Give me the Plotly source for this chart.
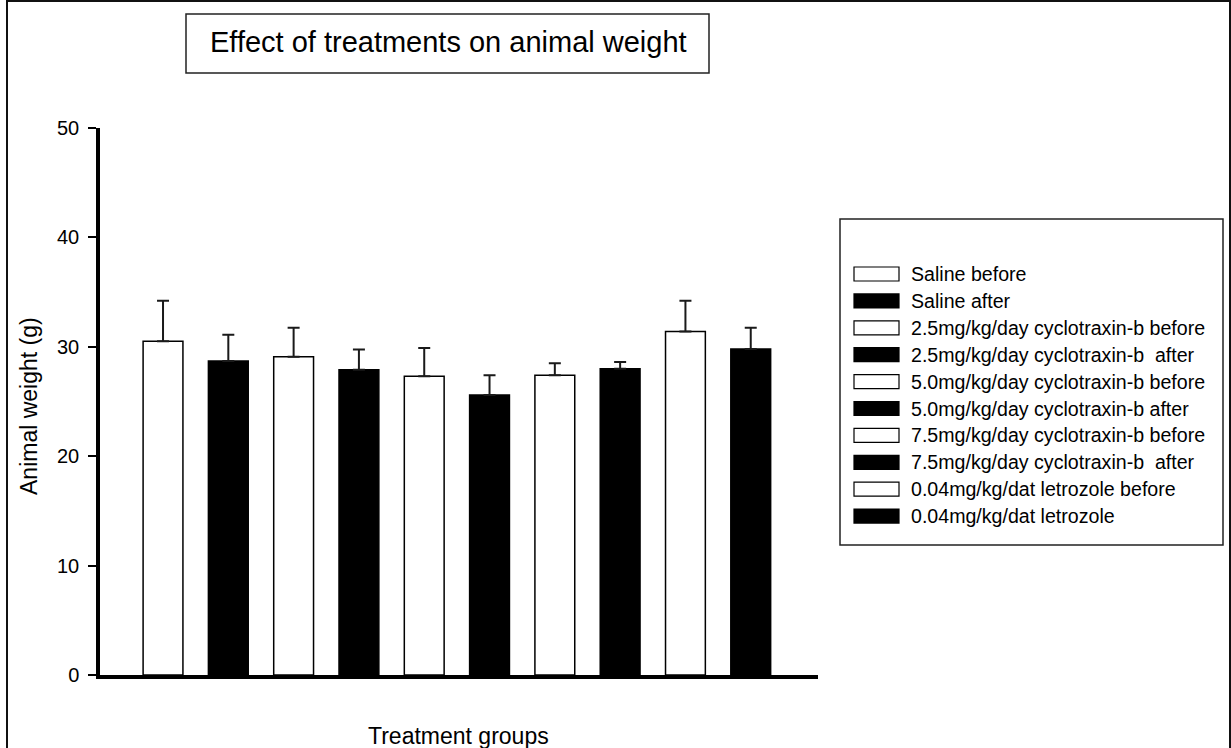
import plotly.graph_objects as go

# Treatment groups (before / after pairs) and their mean weights with upper error
groups = [
    "Saline before",
    "Saline after",
    "2.5mg/kg/day cyclotraxin-b before",
    "2.5mg/kg/day cyclotraxin-b\u00a0 after",
    "5.0mg/kg/day cyclotraxin-b before",
    "5.0mg/kg/day cyclotraxin-b after",
    "7.5mg/kg/day cyclotraxin-b before",
    "7.5mg/kg/day cyclotraxin-b\u00a0 after",
    "0.04mg/kg/dat letrozole before",
    "0.04mg/kg/dat letrozole",
]
weights = [30.5, 28.7, 29.1, 27.9, 27.3, 25.6, 27.4, 28.0, 31.4, 29.8]
errors = [3.7, 2.4, 2.65, 1.85, 2.6, 1.8, 1.1, 0.6, 2.8, 1.95]
fills = ["white", "black"] * 5
y_ticks = [0, 10, 20, 30, 40, 50]

W, H = 1231, 748
ML, MR, MT, MB = 100, 413, 128, 73
PW = W - ML - MR
PH = H - MT - MB
FONT = "Liberation Sans, Arial, sans-serif"


def px(x):
    return (x - ML) / PW


def py(y):
    return (H - MB - y) / PH


x_pos = list(range(len(groups)))

fig = go.Figure()
fig.add_trace(go.Bar(
    x=x_pos,
    y=weights,
    width=0.61,
    marker=dict(color=fills, line=dict(color="black", width=1.5)),
    error_y=dict(type="data", array=errors, arrayminus=[0] * len(errors),
                 symmetric=False, thickness=2, width=6, color="#1a1a1a"),
    showlegend=False,
))

shapes = []
annotations = []

# outer frame
shapes.append(dict(type="rect", xref="paper", yref="paper",
                   x0=px(7), x1=px(1230), y0=py(1), y1=py(760),
                   line=dict(color="#111", width=2), fillcolor="rgba(0,0,0,0)"))

# title box
shapes.append(dict(type="rect", xref="paper", yref="paper",
                   x0=px(186), x1=px(709), y0=py(14), y1=py(73),
                   line=dict(color="#222", width=1.5), fillcolor="white"))
annotations.append(dict(xref="paper", yref="paper", x=px(448), y=py(42),
                        text="Effect of treatments on animal weight",
                        showarrow=False, xanchor="center", yanchor="middle",
                        font=dict(family=FONT, size=29, color="black")))

# legend box with wide swatches
shapes.append(dict(type="rect", xref="paper", yref="paper",
                   x0=px(840), x1=px(1223), y0=py(219), y1=py(545),
                   line=dict(color="#222", width=1.5), fillcolor="white"))
row0, step = 274, 26.9
for i, (name, col) in enumerate(zip(groups, fills)):
    yc = row0 + step * i
    shapes.append(dict(type="rect", xref="paper", yref="paper",
                       x0=px(854), x1=px(899), y0=py(yc - 7), y1=py(yc + 7),
                       line=dict(color="black", width=1.2), fillcolor=col))
    annotations.append(dict(xref="paper", yref="paper", x=px(909), y=py(yc),
                            text=name, showarrow=False,
                            xanchor="left", yanchor="middle",
                            font=dict(family=FONT, size=19.6, color="black")))

# axis titles
annotations.append(dict(xref="paper", yref="paper", x=px(458), y=py(736),
                        text="Treatment groups", showarrow=False,
                        xanchor="center", yanchor="middle",
                        font=dict(family=FONT, size=23, color="black")))
annotations.append(dict(xref="paper", yref="paper", x=px(29), y=py(406),
                        text="Animal weight (g)", showarrow=False, textangle=-90,
                        xanchor="center", yanchor="middle",
                        font=dict(family=FONT, size=23, color="black")))

fig.update_layout(
    width=W, height=H,
    margin=dict(l=ML, r=MR, t=MT, b=MB, pad=0),
    paper_bgcolor="white", plot_bgcolor="white",
    shapes=shapes, annotations=annotations,
    xaxis=dict(range=[-0.965, 10.03], showline=True, linewidth=4, linecolor="black",
               showticklabels=False, ticks="", showgrid=False, zeroline=False),
    yaxis=dict(range=[0, 50], tickvals=y_ticks, ticks="outside", ticklen=8,
               tickwidth=1.5, tickcolor="black", showline=True, linewidth=3.5,
               linecolor="black", showgrid=False, zeroline=False,
               ticklabelstandoff=5,
               tickfont=dict(family=FONT, size=20, color="black")),
)

fig.write_html("out.html")
